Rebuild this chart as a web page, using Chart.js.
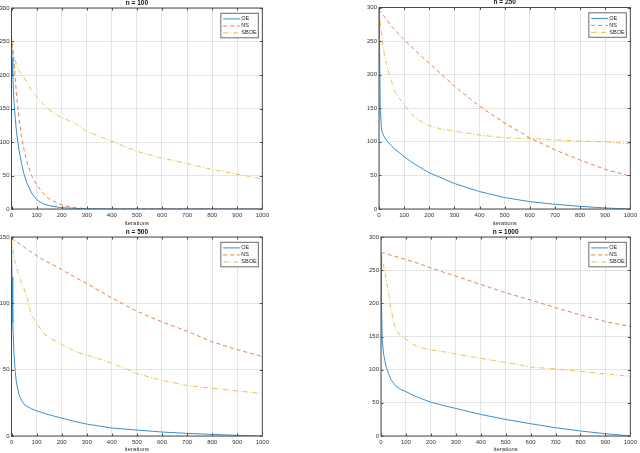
<!DOCTYPE html>
<html>
<head>
<meta charset="utf-8">
<script src="https://cdn.jsdelivr.net/npm/chart.js@4"></script>
<style>
  body { margin: 0; background: #fff; width: 640px; height: 453px; overflow: hidden; position: relative; }
  .panel { position: absolute; }
</style>
</head>
<body>
<div class="panel" style="left:0;top:0;width:272px;height:232px"><canvas id="g100"></canvas></div>
<div class="panel" style="left:360px;top:0;width:280px;height:232px"><canvas id="g250"></canvas></div>
<div class="panel" style="left:0;top:228px;width:272px;height:225px"><canvas id="g500"></canvas></div>
<div class="panel" style="left:360px;top:228px;width:280px;height:225px"><canvas id="g1000"></canvas></div>
<script>
// iteraciones donde se leen los valores (comunes a todas las curvas)
const iteraciones = [0, 2, 5, 10, 15, 20, 30, 40, 50, 60, 80, 100, 125, 150, 200, 250, 300, 400, 500, 600, 700, 800, 900, 1000];

// n = 100
const oe100 = [250, 225, 200, 160, 135, 115, 88, 68, 52, 40, 24, 14, 8, 5, 2, 1, 0.3, 0, 0, 0, 0, 0, 0, 0];
const ns100 = [258, 250, 238, 220, 195, 170, 135, 108, 88, 72, 50, 36, 24, 15, 6, 2, 0.5, 0, 0, 0, 0, 0, 0, 0];
const sboe100 = [252, 245, 238, 230, 222, 215, 207, 200, 196, 190, 177, 168, 157, 148, 136, 129, 116, 101, 86, 76, 68, 59, 52, 45];

// n = 250
const oe250 = [295, 250, 150, 118, 112, 108, 102, 98, 94, 90, 84, 78, 71, 65, 54, 46, 38, 26, 17, 11, 7, 4, 1.5, 0];
const ns250 = [297, 296, 294, 292, 289, 287, 282, 277, 272, 268, 260, 252, 243, 234, 217, 200, 183, 153, 128, 106, 88, 73, 59, 49];
const sboe250 = [295, 288, 278, 262, 245, 233, 215, 202, 190, 177, 165, 156, 143, 134, 124, 119, 116, 110, 106, 105, 103, 101, 100, 97];

// n = 500
const oe500 = [148, 120, 85, 62, 48, 40, 31, 27, 24, 22.5, 20.5, 19, 17.5, 16, 13.5, 11, 9, 6, 4.5, 3, 2, 1.2, 0.5, 0];
const ns500 = [149, 148.7, 148.3, 147.6, 147, 146.3, 145, 143.7, 142.4, 141, 138.5, 136, 133, 130.5, 125.5, 120, 115, 104, 94, 86, 79, 71, 65, 60];
const sboe500 = [148, 145, 141, 134, 130, 127, 121, 115, 111, 106, 91, 85, 78, 74, 69, 64, 61, 55, 47, 42, 38, 36, 34, 32];

// n = 1000
const oe1000 = [275, 200, 145, 125, 114, 105, 94, 85, 80, 75, 70, 67, 62, 58, 51, 46, 41.5, 32.5, 25, 18.5, 12.5, 7.5, 3.5, 0];
const ns1000 = [277, 276.8, 276.5, 276, 275.4, 274.8, 273.7, 272.6, 271.5, 270.4, 268.2, 266, 263, 260, 253.5, 247, 241, 228.5, 216, 205, 193.5, 182.5, 172.5, 165];
const sboe1000 = [275, 272, 266, 258, 248, 238, 215, 193, 172, 160, 150, 146, 139, 134, 130, 127, 123.5, 117, 111, 104, 101, 97.5, 93.5, 90];

const metodos = ["OE", "NS", "SBOE"];
const colores = ["#3a8fd0", "#e3804f", "#efbf4f"];
const trazos = [[], [4, 3], [5, 2, 1, 2]];
const fuente = "'Liberation Sans', Arial, sans-serif";

function puntos(valores) {
  return iteraciones.map((x, i) => ({ x, y: valores[i] }));
}

// caja, marcas interiores, titulo y leyenda al estilo MATLAB
const estiloMatlab = {
  id: "estiloMatlab",
  afterDatasetsDraw(chart) {
    const { ctx, chartArea: a, scales } = chart;
    const op = chart.options.plugins.estiloMatlab;
    ctx.save();
    ctx.strokeStyle = "#4a4a4a";
    ctx.lineWidth = 1;
    ctx.setLineDash([]);
    ctx.beginPath();
    scales.x.ticks.forEach((t) => {
      const px = Math.round(scales.x.getPixelForValue(t.value)) + 0.5;
      ctx.moveTo(px, a.bottom); ctx.lineTo(px, a.bottom - 2.5);
      ctx.moveTo(px, a.top); ctx.lineTo(px, a.top + 2.5);
    });
    scales.y.ticks.forEach((t) => {
      const py = Math.round(scales.y.getPixelForValue(t.value)) + 0.5;
      ctx.moveTo(a.left, py); ctx.lineTo(a.left + 2.5, py);
      ctx.moveTo(a.right, py); ctx.lineTo(a.right - 2.5, py);
    });
    ctx.stroke();
    ctx.strokeRect(a.left, a.top, a.right - a.left, a.bottom - a.top);

    // titulo
    ctx.fillStyle = "#111";
    ctx.font = "bold 6.5px " + fuente;
    ctx.textAlign = "center";
    ctx.textBaseline = "middle";
    ctx.fillText(op.titulo, (a.left + a.right) / 2, a.top - 5);

    // leyenda
    const bx = a.right - 41.5, by = a.top + 5.3, bw = 37.5, bh = 24.5;
    ctx.fillStyle = "#fff";
    ctx.fillRect(bx, by, bw, bh);
    ctx.strokeStyle = "#6a6a6a";
    ctx.strokeRect(bx, by, bw, bh);
    ctx.font = "5.5px " + fuente;
    ctx.textAlign = "left";
    metodos.forEach((m, i) => {
      const ly = by + 5.6 + i * 7;
      ctx.strokeStyle = colores[i];
      ctx.setLineDash(trazos[i]);
      ctx.beginPath();
      ctx.moveTo(bx + 2.3, ly); ctx.lineTo(bx + 19, ly);
      ctx.stroke();
      ctx.fillStyle = "#222";
      ctx.fillText(m, bx + 20.5, ly);
    });
    ctx.restore();
  }
};

function crearGrafica(id, titulo, oe, ns, sboe, yMax, anchoY, altoX, margen, padTitulo) {
  const series = [oe, ns, sboe];
  const datasets = series.map((valores, i) => ({
    label: metodos[i],
    data: puntos(valores),
    borderColor: colores[i],
    borderDash: trazos[i],
    borderWidth: 1,
    pointRadius: 0,
    tension: 0,
    fill: false
  }));
  const config = {
    type: "line",
    data: { datasets },
    options: {
      responsive: true,
      maintainAspectRatio: false,
      animation: false,
      layout: { padding: margen },
      plugins: {
        legend: { display: false },
        tooltip: { enabled: false },
        estiloMatlab: { titulo }
      },
      scales: {
        x: {
          type: "linear",
          min: 0,
          max: 1000,
          ticks: { stepSize: 100, padding: 3, maxRotation: 0, color: "#333", font: { size: 6, family: fuente }, callback: (v) => String(v) },
          grid: { color: "rgba(0,0,0,0.1)", drawTicks: false },
          border: { display: false },
          title: { display: true, text: "iterations", color: "#333", font: { size: 6, family: fuente }, padding: { top: 0, bottom: padTitulo } },
          afterFit: (s) => { s.height = altoX; }
        },
        y: {
          min: 0,
          max: yMax,
          ticks: { stepSize: 50, padding: 2, color: "#333", font: { size: 6, family: fuente }, callback: (v) => String(v) },
          grid: { color: "rgba(0,0,0,0.1)", drawTicks: false },
          border: { display: false },
          afterFit: (s) => { s.width = anchoY; }
        }
      }
    },
    plugins: [estiloMatlab]
  };
  new Chart(document.getElementById(id), config);
}

crearGrafica("g100", "n = 100", oe100, ns100, sboe100, 300, 11.5, 23, { top: 8, right: 5.5, left: 0, bottom: 0 }, 5.4);
crearGrafica("g250", "n = 250", oe250, ns250, sboe250, 300, 19, 23, { top: 7.5, right: 6, left: 0, bottom: 0 }, 5.4);
crearGrafica("g500", "n = 500", oe500, ns500, sboe500, 150, 11.5, 17, { top: 9, right: 5.5, left: 0, bottom: 0 }, 0);
crearGrafica("g1000", "n = 1000", oe1000, ns1000, sboe1000, 300, 21, 17, { top: 9, right: 7, left: 0, bottom: 0 }, 0);
</script>
</body>
</html>
